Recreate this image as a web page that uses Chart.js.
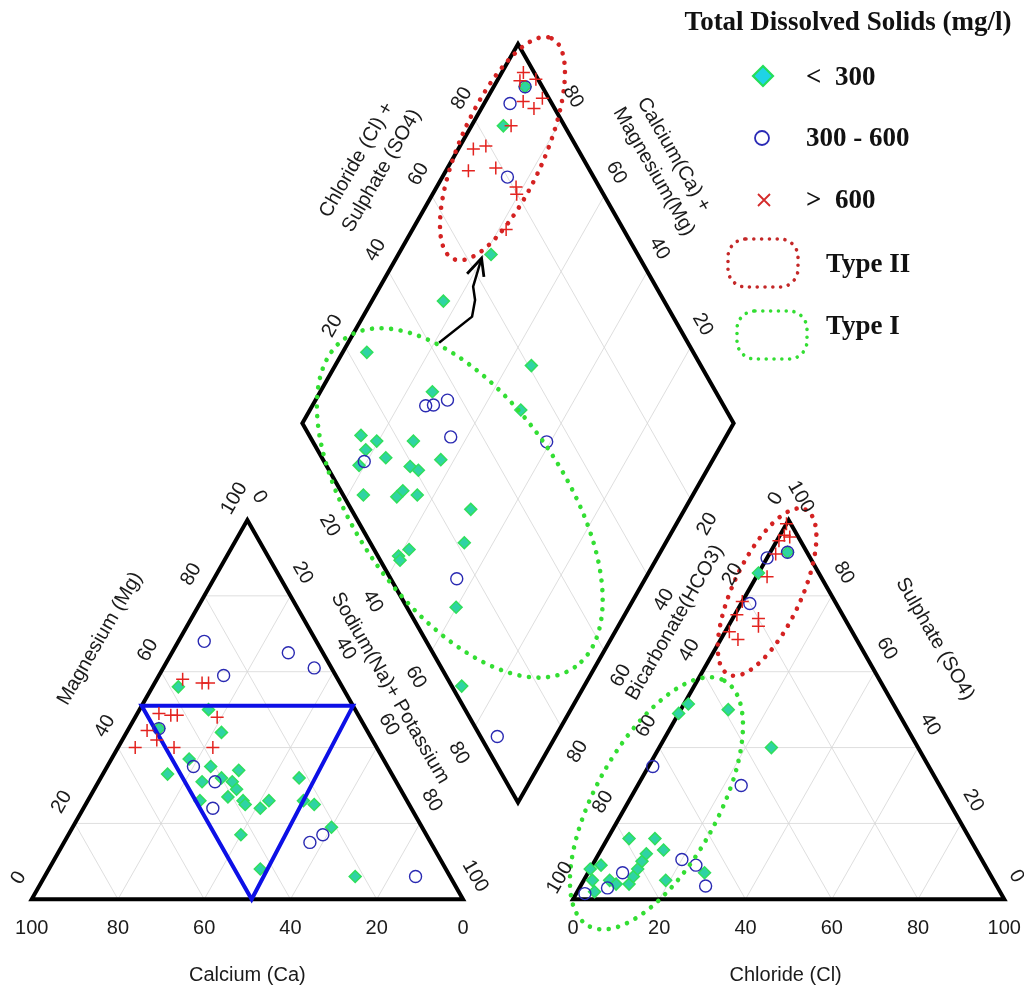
<!DOCTYPE html>
<html>
<head>
<meta charset="utf-8">
<script src="https://cdn.jsdelivr.net/npm/chart.js@4.4.0/dist/chart.umd.min.js"></script>
<style>
  html, body { margin: 0; padding: 0; background: #fff; }
  canvas { display: block; }
</style>
</head>
<body>
<canvas id="piper" width="1024" height="996"></canvas>
<script>
// cation triangle points: [Ca %, Mg %]  (Na+K is the rest)
const cationLow = [[38,56],[34,50],[34,44],[48,45],[45,37],[41,35],[52,33],[45,31],[35,34],[38,31],[40,32],[38,29],[41,27],[38,26],[38,25],[35,24],[32,26],[48,26],[22,32],[24,26],[22,25],[21,19],[43,17],[43,8],[22,6]];
const cationMid = [[26,68],[8,65],[4,61],[26,59],[48,45],[45,35],[42,31],[46,24],[24,17],[28,15],[8,6]];
const cationHigh = [[36,58],[32,57],[30.5,57],[46,49],[43.5,48.5],[42,48.5],[33,48],[51,44.5],[50,42],[56,40],[47,40],[38,40]];

// anion triangle points: [Cl %, SO4 %]  (HCO3 is the rest)
const anionLow = [[0,8],[2,9],[2,5],[6,5],[8,4],[11,4],[11,6],[11,8],[11,10],[11,12],[5,16],[11,16],[14.5,13],[19,5],[27,7],[0,49],[1,51.5],[11,50],[26,40],[0,86],[4,2],[4,91.5]];
const anionMid = [[0,90],[2,78],[1,35],[24,30],[20,10.5],[24,9],[29,3.5],[8,7],[6.5,3],[2,1.5],[4,91.5]];
const anionHigh = [[0,99],[1,96],[2.5,95.5],[0.5,94.5],[1.5,91],[2.5,85],[0,78.5],[0.5,75],[6,74],[7,72],[1,70.5],[4,68.5]];

// diamond points: [Cl+SO4 %, Na+K %]
const diamondLow = [[85.8,7.4],[66,21.5],[48.8,16.6],[24.3,5.6],[60.7,45.5],[34.3,26],[52.4,48.9],[12,15.2],[14.9,19.6],[23.4,28.1],[11.2,18.2],[14.8,23.9],[7.6,18.7],[27.3,36.9],[19.3,30.7],[20.7,33.1],[4.7,23.6],[12.2,31.6],[14.4,32.2],[17.2,36.1],[27.7,50.4],[21.8,53.3],[4.8,39.8],[8.1,41.4],[4.6,40.7],[11.4,59.9],[2.3,71.6],[96,7.3]];
const diamondMid = [[90.3,6],[80,15.1],[30.9,26.3],[32.8,28],[36.7,30.6],[32.6,36.2],[9.3,19.4],[54.2,59.1],[15.3,56.3],[3.9,86.5],[96,7.3]];
const diamondHigh = [[97.5,5],[95.6,5.3],[99.5,8.8],[93.6,8.8],[95.2,12.2],[98.5,12.8],[87.6,9.2],[75.8,3.5],[79.1,6],[71.8,5.2],[78.5,11.2],[80.7,18.4],[79.9,19.5],[72.8,21.7]];

const tickValues = [0, 20, 40, 60, 80, 100];
const innerTicks = [20, 40, 60, 80];
const legendTitle = "Total Dissolved Solids (mg/l)";
const legendLabels = ["<  300", "300 - 600", ">  600", "Type II", "Type I"];

// ---- piper geometry (side of a triangle = 1 unit) ----
const GAP = 0.255;
const H = Math.sqrt(3) / 2;
const cation = (ca, mg) => ({ x: (100 - ca - mg + mg / 2) / 100, y: H * mg / 100 });
const anion = (cl, so4) => ({ x: 1 + GAP + (cl + so4 / 2) / 100, y: H * so4 / 100 });
const diamond = (s, n) => ({ x: 0.5 + GAP / 2 + (s + n) / 200, y: H * (1 + GAP) + H * (s - n) / 100 });

const toPts = (arr, f) => arr.map(([a, b]) => f(a, b));
const lowPts = [...toPts(cationLow, cation), ...toPts(anionLow, anion), ...toPts(diamondLow, diamond)];
const midPts = [...toPts(cationMid, cation), ...toPts(anionMid, anion), ...toPts(diamondMid, diamond)];
const highPts = [...toPts(cationHigh, cation), ...toPts(anionHigh, anion), ...toPts(diamondHigh, diamond)];

// polylines joined with gaps
function joinPaths(paths) {
  const out = [];
  paths.forEach((p) => {
    out.push(...p);
    out.push({ x: p[p.length - 1].x, y: null });
  });
  return out;
}

const gridPaths = [];
innerTicks.forEach((v) => {
  gridPaths.push([cation(100 - v, v), cation(0, v)]);
  gridPaths.push([cation(v, 0), cation(v, 100 - v)]);
  gridPaths.push([cation(100 - v, 0), cation(0, 100 - v)]);
  gridPaths.push([anion(0, v), anion(100 - v, v)]);
  gridPaths.push([anion(v, 0), anion(v, 100 - v)]);
  gridPaths.push([anion(100 - v, 0), anion(0, 100 - v)]);
  gridPaths.push([diamond(v, 0), diamond(v, 100)]);
  gridPaths.push([diamond(0, v), diamond(100, v)]);
});

const outlinePaths = [
  [cation(50, 0), cation(0, 0), cation(0, 100), cation(100, 0), cation(50, 0)],
  [anion(50, 0), anion(100, 0), anion(0, 100), anion(0, 0), anion(50, 0)],
  [diamond(0, 50), diamond(0, 100), diamond(100, 100), diamond(100, 0), diamond(0, 0), diamond(0, 50)],
];
const blueTriangle = [cation(24.5, 51), cation(0, 51), cation(49, 0), cation(49, 51), cation(24.5, 51)];

// arrow in the diamond, [Cl+SO4, Na+K]
const arrowShaft = toPts([[42.3,21.1],[53.4,25.3],[56.3,23.8],[57.6,21.6],[63.3,19.8]], diamond);
const arrowHead = toPts([[57.9,18.5],[63.3,19.8],[61.4,22.8]], diamond);

// dotted group outlines: centre in panel percent, radii in % of side, angle in screen degrees
const groupOutlines = [
  { color: "#d42222", at: diamond(82.6, 10.2), a: 28, b: 9.8, angle: -66 },
  { color: "#d42222", at: anion(4.5, 81), a: 21.1, b: 7.9, angle: -65 },
  { color: "#33de33", at: diamond(26, 47), a: 46.5, b: 24, angle: 55 },
  { color: "#33de33", at: anion(6.7, 25.3), a: 32.5, b: 14.2, angle: -61 },
];

const edgeLabels = [
  { values: tickValues, at: (v) => cation(v, 0), dx: 0, dy: 29, rot: 0 },
  { values: tickValues, at: (v) => cation(100 - v, v), dx: -13, dy: -21.4, rot: -60 },
  { values: tickValues, at: (v) => cation(0, 100 - v), dx: 12, dy: -23, rot: 60 },
  { values: tickValues, at: (v) => anion(v, 0), dx: 0, dy: 29, rot: 0 },
  { values: tickValues, at: (v) => anion(0, 100 - v), dx: -13, dy: -21.4, rot: -60 },
  { values: tickValues, at: (v) => anion(100 - v, v), dx: 12, dy: -23, rot: 60 },
  { values: innerTicks, at: (v) => diamond(v, 0), dx: -13, dy: -21.4, rot: -60 },
  { values: innerTicks, at: (v) => diamond(100, 100 - v), dx: 12, dy: -23, rot: 60 },
  { values: innerTicks, at: (v) => diamond(0, v), dx: -16, dy: 26.5, rot: 60 },
  { values: innerTicks, at: (v) => diamond(100 - v, 100), dx: 16.7, dy: 25, rot: -60 },
];

const axisTitles = [
  { text: "Calcium (Ca)", at: cation(50, 0), dx: 0, dy: 76, rot: 0 },
  { text: "Magnesium (Mg)", at: cation(50, 50), dx: -39.5, dy: -71, rot: -60 },
  { text: "Sodium(Na)+ Potassium", at: cation(0, 50), dx: 35, dy: -21.6, rot: 60 },
  { text: "Chloride (Cl)", at: anion(50, 0), dx: -3, dy: 76, rot: 0 },
  { text: "Sulphate (SO4)", at: anion(50, 50), dx: 38.5, dy: -70.6, rot: 60 },
  { text: "Bicarbonate(HCO3)", at: anion(0, 50), dx: -6, dy: -87, rot: -60 },
  { text: "Chloride (Cl) +", at: diamond(50, 0), dx: -53.4, dy: -73.6, rot: -60 },
  { text: "Sulphate (SO4)", at: diamond(50, 0), dx: -28.4, dy: -62.9, rot: -60 },
  { text: "Calcium(Ca) +", at: diamond(100, 50), dx: 48, dy: -79, rot: 60 },
  { text: "Magnesium(Mg)", at: diamond(100, 50), dx: 28, dy: -62, rot: 60 },
];

function rotText(ctx, text, x, y, deg) {
  ctx.save();
  ctx.translate(x, y);
  ctx.rotate((deg * Math.PI) / 180);
  ctx.fillText(text, 0, 0);
  ctx.restore();
}

function dottedStroke(ctx, color, width, gap) {
  ctx.strokeStyle = color;
  ctx.lineWidth = width;
  ctx.lineCap = "round";
  ctx.setLineDash([0.01, gap]);
  ctx.stroke();
  ctx.setLineDash([]);
}

const piperDecor = {
  id: "piperDecor",
  afterDatasetsDraw(chart) {
    const { ctx, scales: { x, y } } = chart;
    const unit = x.getPixelForValue(1) - x.getPixelForValue(0);

    ctx.save();
    groupOutlines.forEach((g) => {
      ctx.beginPath();
      ctx.ellipse(x.getPixelForValue(g.at.x), y.getPixelForValue(g.at.y),
        (g.a / 100) * unit, (g.b / 100) * unit, (g.angle * Math.PI) / 180, 0, 2 * Math.PI);
      dottedStroke(ctx, g.color, 4.6, 9.6);
    });
    ctx.restore();
  },
  afterDraw(chart) {
    const { ctx, scales: { x, y } } = chart;
    ctx.save();
    ctx.fillStyle = "#1b1b1b";
    ctx.textAlign = "center";
    ctx.textBaseline = "middle";

    ctx.font = '20px "Liberation Sans", Arial, sans-serif';
    edgeLabels.forEach((e) => {
      e.values.forEach((v) => {
        const p = e.at(v);
        rotText(ctx, String(v), x.getPixelForValue(p.x) + e.dx, y.getPixelForValue(p.y) + e.dy, e.rot);
      });
    });
    axisTitles.forEach((t) => {
      rotText(ctx, t.text, x.getPixelForValue(t.at.x) + t.dx, y.getPixelForValue(t.at.y) + t.dy, t.rot);
    });

    // legend
    ctx.fillStyle = "#111";
    ctx.font = 'bold 27px "Liberation Serif", "Times New Roman", serif';
    ctx.fillText(legendTitle, 848, 23);
    ctx.textAlign = "left";
    ctx.fillText(legendLabels[0], 806, 78);
    ctx.fillText(legendLabels[1], 806, 139);
    ctx.fillText(legendLabels[2], 806, 201);
    ctx.fillText(legendLabels[3], 826, 265);
    ctx.fillText(legendLabels[4], 826, 327);

    // legend markers
    ctx.beginPath();
    ctx.moveTo(763, 66); ctx.lineTo(773, 76); ctx.lineTo(763, 86); ctx.lineTo(753, 76); ctx.closePath();
    ctx.fillStyle = "#1fd3e6"; ctx.fill();
    ctx.strokeStyle = "#25de5a"; ctx.lineWidth = 2.2; ctx.stroke();

    ctx.beginPath();
    ctx.arc(762, 138, 7, 0, 2 * Math.PI);
    ctx.strokeStyle = "#2a2ab5"; ctx.lineWidth = 1.8; ctx.stroke();

    ctx.beginPath();
    ctx.moveTo(758, 194); ctx.lineTo(770, 206); ctx.moveTo(770, 194); ctx.lineTo(758, 206);
    ctx.strokeStyle = "#d42a2a"; ctx.lineWidth = 1.8; ctx.stroke();

    ctx.beginPath();
    ctx.roundRect(728, 239, 70, 48, 18);
    dottedStroke(ctx, "#c42828", 3.6, 7.8);
    ctx.beginPath();
    ctx.roundRect(737, 311, 70, 48, 18);
    dottedStroke(ctx, "#33de33", 3.6, 7.8);
    ctx.restore();
  },
};

const lineDs = (data, color, width) => ({
  data, showLine: true, borderColor: color, borderWidth: width,
  pointRadius: 0, tension: 0, spanGaps: false, fill: false, clip: false,
});

new Chart(document.getElementById("piper"), {
  type: "scatter",
  data: {
    datasets: [
      { label: "> 600", data: highPts, pointStyle: "cross", pointRadius: 6.5, borderColor: "#e3231f", borderWidth: 1.5, backgroundColor: "#e3231f", clip: false },
      { label: "300 - 600", data: midPts, pointStyle: "circle", pointRadius: 6, borderColor: "#2a2ab2", borderWidth: 1.4, backgroundColor: "rgba(0,0,0,0)", clip: false },
      lineDs(blueTriangle, "#0d10e6", 4),
      { label: "< 300", data: lowPts, pointStyle: "rectRot", pointRadius: 6, borderColor: "#30df5c", borderWidth: 1.5, backgroundColor: "#2fd3a4", clip: false },
      lineDs(arrowShaft, "#000", 2.5),
      lineDs(arrowHead, "#000", 2.8),
      lineDs(joinPaths(outlinePaths), "#000", 4),
      lineDs(joinPaths(gridPaths), "#d6d6d6", 0.8),
    ],
  },
  options: {
    responsive: false,
    animation: false,
    devicePixelRatio: 1,
    events: [],
    layout: { padding: 0, autoPadding: false },
    plugins: { legend: { display: false }, tooltip: { enabled: false } },
    scales: {
      x: { type: "linear", min: -0.0735, max: 2.3007, display: false },
      y: { type: "linear", min: -0.2208, max: 2.0532, display: false },
    },
  },
  plugins: [piperDecor],
});
</script>
</body>
</html>
